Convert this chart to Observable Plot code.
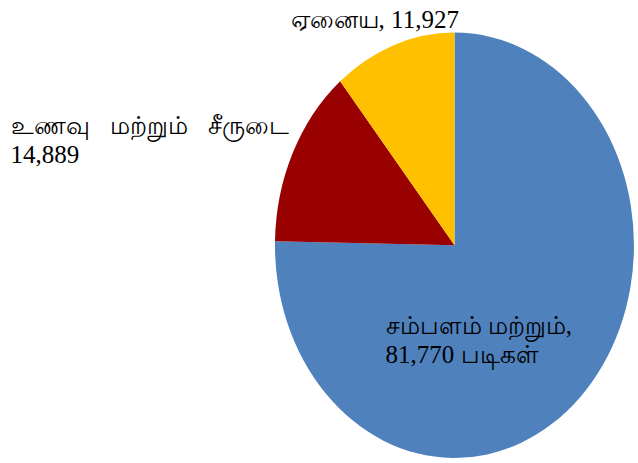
<!DOCTYPE html>
<html>
<head>
<meta charset="utf-8">
<script src="https://cdn.jsdelivr.net/npm/d3@7"></script>
<script src="https://cdn.jsdelivr.net/npm/@observablehq/plot@0.6"></script>
<style>
  html, body { margin: 0; padding: 0; background: #fff; }
</style>
</head>
<body>
<div id="chart"></div>
<script>
// Data
const categories = ["சம்பளம் மற்றும் படிகள்", "உணவு மற்றும் சீருடை", "ஏனைய"];
const values = [81770, 14889, 11927];
const colors = ["#4F81BD", "#990000", "#FFC000"];
const labelTexts = [
  "சம்பளம் மற்றும்,\n81,770 படிகள்",
  "உணவு மற்றும் சீருடை\n14,889",
  "ஏனைய, 11,927"
];

const slices = categories.map((c, i) => ({category: c, value: values[i], color: colors[i]}));

const pieMark = (index, scales) => {
  const {x, y} = scales;
  const cx = x(0), cy = y(0), rx = x(1) - cx, ry = cy - y(1);
  const g = d3.create("svg:g")
    .attr("transform", `translate(${cx},${cy}) scale(${rx},${ry})`);
  const arcs = d3.pie().sort(null).value(d => d.value)(slices);
  const arc = d3.arc().innerRadius(0).outerRadius(1);
  g.selectAll("path").data(arcs).join("path")
    .attr("d", arc)
    .attr("fill", d => d.data.color)
    .attr("stroke", "none");
  return g.node();
};

// label placement (in unit pie coordinates)
const labelPos = [
  {x: -0.387, y: -0.549, ws: 0},
  {x: -2.476, y: 0.387, ws: 14},
  {x: -0.916, y: 1.026, ws: 0}
];
const labels = labelTexts.map((t, i) => ({text: t, ...labelPos[i]}));

const chart = Plot.plot({
  width: 638,
  height: 463,
  margin: 0,
  x: {domain: [-1, 1], range: [275, 634], axis: null},
  y: {domain: [-1, 1], range: [458, 32.6], axis: null},
  style: {background: "#fff"},
  marks: [
    pieMark,
    ...labels.map(l => Plot.text([l], {
      x: "x", y: "y", text: "text",
      textAnchor: "start", lineAnchor: "bottom", lineHeight: 1.16,
      fontSize: 25, fontFamily: "'Liberation Serif', serif",
      fill: "#000"
    }))
  ]
});
// widen word spacing per label as in reference
const texts = chart.querySelectorAll("g[aria-label='text'] text");
texts.forEach((t, i) => t.setAttribute("word-spacing", labelPos[i].ws));
document.getElementById("chart").appendChild(chart);
</script>
</body>
</html>
